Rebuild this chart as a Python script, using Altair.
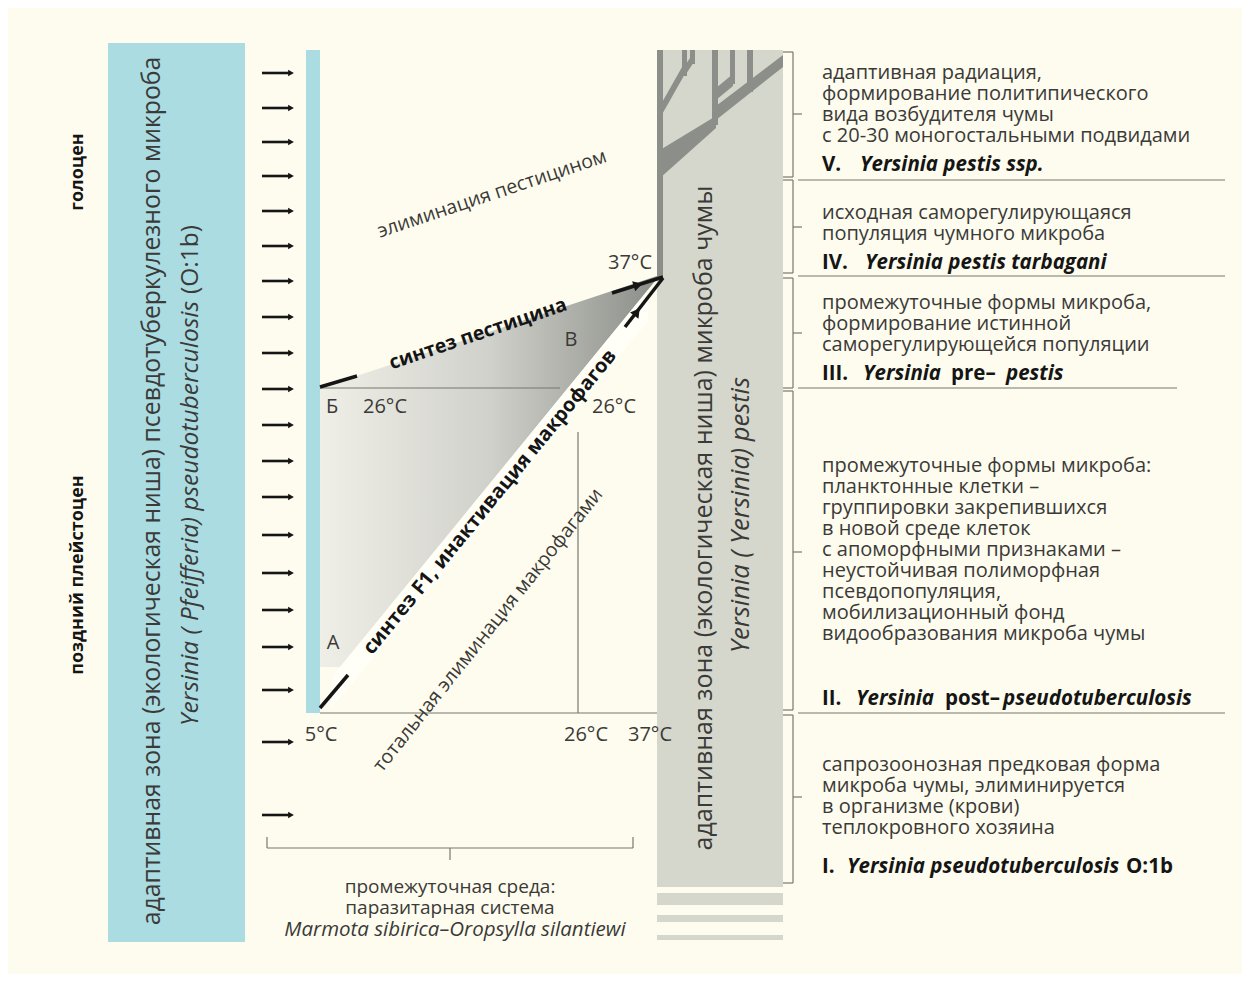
import altair as alt
import pandas as pd

FONT = "Open Sans"
BG = "#FEFCEE"
TXT = "#3a3a38"
DARK = "#151515"
LINE = "#77776f"
TREE = "#8C8E89"

# ---------------- data ----------------
arrow_y = [73, 108, 142, 176, 211, 246, 281, 317, 353, 389, 425, 461, 497, 535, 573, 610, 647, 690, 742, 815]

# rectangles: x, x2, y, y2, colour  (blue zones, grey zone, grey stripes, tree stems)
box_x1 = [108, 306, 657, 657, 657, 657, 657, 682, 690, 712, 730, 747]
box_x2 = [245, 320, 783, 783, 783, 783, 663, 687, 695, 718, 735, 753]
box_y1 = [43, 50, 50, 893, 915, 935, 50, 50, 50, 50, 50, 50]
box_y2 = [942, 713, 887, 905, 922, 940, 278, 76, 64, 125, 84, 92]
box_col = ["#ABDCE2", "#ABDCE2", "#D5D7CC", "#D5D7CC", "#D5D7CC", "#D5D7CC",
           TREE, TREE, TREE, TREE, TREE, TREE]

# tree branches (areas): seg, x, top, bottom
br_seg = ["t1", "t1", "t3", "t3", "w", "w", "t5", "t5", "d", "d"]
br_x = [660, 686, 686, 694, 660, 716, 716, 733, 716, 783]
br_top = [106, 60, 64, 52, 150, 116, 88, 74, 106, 55]
br_bot = [118, 72, 74, 62, 178, 128, 100, 86, 120, 67]

# gradient triangle (area): x, top, bottom
tri_x = [320, 340, 660]
tri_top = [388, 381.4, 275]
tri_bot = [667, 667, 275]

# pale band under the diagonal arrow
band_x = [332, 648]
band_top = [677, 290]
band_bot = [708, 321]

# rules: x, y, x2, y2, colour, width
rule_x1 = [320, 320, 578, 612, 625, 320, 320,
           267, 267, 633, 450,
           798, 798, 798, 798]
rule_y1 = [388, 713, 432, 293, 327, 387, 708,
           848, 837, 837, 848,
           180, 276, 388, 713]
rule_x2 = [560, 657, 578, 663, 663, 357, 348,
           633, 267, 633, 450,
           1225, 1225, 1177, 1225]
rule_y2 = [388, 713, 713, 277, 278, 376, 675,
           848, 848, 848, 860,
           180, 276, 388, 713]
rule_c = [LINE, LINE, LINE, DARK, DARK, DARK, DARK,
          LINE, LINE, LINE, LINE,
          LINE, LINE, LINE, LINE]
rule_w = [1.2, 1.2, 1.2, 3.5, 3.5, 3.5, 3.5,
          1.2, 1.2, 1.2, 1.2,
          1.2, 1.2, 1.2, 1.2]

# right-hand brackets: top, bottom, middle
brk_top = [52, 180, 278, 391, 715]
brk_bot = [177, 273, 388, 710, 883]
brk_mid = [114, 227, 333, 552, 797]

# arrow heads on the two arrows towards 37°C
head_x = [638, 637]
head_y = [285, 312]
head_a = [343, 307]

# single texts: text, x, y, angle, size, weight, style, align, colour
texts = [
    ("голоцен", 78, 172, 270, 18, "bold", "normal", "center", DARK),
    ("поздний плейстоцен", 78, 575, 270, 18, "bold", "normal", "center", DARK),
    ("адаптивная зона (экологическая ниша) псевдотуберкулезного микроба", 153, 491, 270, 24.8, "normal", "normal", "center", TXT),
    ("Yersinia ( Pfeifferia) pseudotuberculosis", 191, 726, 270, 24.5, "normal", "italic", "left", TXT),
    ("(O:1b)", 191, 225, 270, 24.5, "normal", "normal", "right", TXT),
    ("адаптивная зона (экологическая ниша) микроба чумы", 704, 518, 270, 25, "normal", "normal", "center", TXT),
    ("Yersinia ( Yersinia) pestis", 741, 515, 270, 25.5, "normal", "italic", "center", TXT),
    ("элиминация пестицином", 492, 194, 341.5, 19.5, "normal", "normal", "center", TXT),
    ("синтез пестицина", 478, 334, 341.3, 19.5, "bold", "normal", "center", DARK),
    ("синтез F1, инактивация макрофагов", 490, 502, 309.3, 20, "bold", "normal", "center", DARK),
    ("тотальная элиминация макрофагами", 488, 630, 308.5, 19.5, "normal", "normal", "center", TXT),
    ("37°C", 630, 263, 0, 20, "normal", "normal", "center", TXT),
    ("В", 571, 340, 0, 20, "normal", "normal", "center", TXT),
    ("Б", 332, 407, 0, 20, "normal", "normal", "center", TXT),
    ("26°C", 385, 407, 0, 20, "normal", "normal", "center", TXT),
    ("26°C", 614, 407, 0, 20, "normal", "normal", "center", TXT),
    ("А", 333, 643, 0, 20, "normal", "normal", "center", TXT),
    ("5°C", 321, 735, 0, 20, "normal", "normal", "center", TXT),
    ("26°C", 586, 735, 0, 20, "normal", "normal", "center", TXT),
    ("37°C", 650, 735, 0, 20, "normal", "normal", "center", TXT),
    ("Marmota sibirica–Oropsylla silantiewi", 455, 930, 0, 20.5, "normal", "italic", "center", TXT),
]

# multi-line blocks: lines, x, first-line y, size, align
block_lines = [
    ["адаптивная радиация,", "формирование политипического",
     "вида возбудителя чумы", "с 20-30 моногостальными подвидами"],
    ["исходная саморегулирующаяся", "популяция чумного микроба"],
    ["промежуточные формы микроба,", "формирование истинной",
     "саморегулирующейся популяции"],
    ["промежуточные формы микроба:", "планктонные клетки –",
     "группировки закрепившихся", "в новой среде клеток",
     "с апоморфными признаками –", "неустойчивая полиморфная",
     "псевдопопуляция,", "мобилизационный фонд",
     "видообразования микроба чумы"],
    ["сапрозоонозная предковая форма", "микроба чумы, элиминируется",
     "в организме (крови)", "теплокровного хозяина"],
    ["промежуточная среда:", "паразитарная система"],
]
block_x = [822, 822, 822, 822, 822, 450]
block_y = [73, 213, 303, 466, 765, 887]
block_size = [20, 20, 20, 20, 20, 19]
block_align = ["left", "left", "left", "left", "left", "center"]

stage_parts = [
    ("V.", 822, 165, "normal"), ("Yersinia  pestis ssp.", 860, 165, "italic"),
    ("IV.", 822, 263, "normal"), ("Yersinia  pestis tarbagani", 865, 263, "italic"),
    ("III.", 822, 374, "normal"), ("Yersinia", 863, 374, "italic"),
    ("pre–", 951, 374, "normal"), ("pestis", 1006, 374, "italic"),
    ("II.", 822, 699, "normal"), ("Yersinia", 856, 699, "italic"),
    ("post–", 945, 699, "normal"), ("pseudotuberculosis", 1003, 699, "italic"),
    ("I.", 822, 867, "normal"), ("Yersinia pseudotuberculosis", 847, 867, "italic"),
    ("O:1b", 1126, 867, "normal"),
]

# ---------------- scales ----------------
XS = alt.Scale(domain=[8, 1242], nice=False, zero=False)
YS = alt.Scale(domain=[8, 974], nice=False, zero=False, reverse=True)


def X(f="x"):
    return alt.X(f"{f}:Q", scale=XS, axis=None)


def Y(f="y"):
    return alt.Y(f"{f}:Q", scale=YS, axis=None)


layers = []

# rectangles
df_box = pd.DataFrame({"x": box_x1, "x2": box_x2, "y": box_y1, "y2": box_y2, "c": box_col})
layers.append(alt.Chart(df_box).mark_rect().encode(
    x=X(), x2="x2:Q", y=Y(), y2="y2:Q", color=alt.Color("c:N", scale=None)))

# tree branches
df_br = pd.DataFrame({"seg": br_seg, "x": br_x, "y": br_top, "y2": br_bot})
layers.append(alt.Chart(df_br).mark_area(color=TREE, interpolate="linear").encode(
    x=X(), y=Y(), y2="y2:Q", detail="seg:N"))

# gradient triangle
df_tri = pd.DataFrame({"x": tri_x, "y": tri_top, "y2": tri_bot})
grad = alt.Gradient(gradient="linear", x1=0, y1=0, x2=1, y2=0, stops=[
    alt.GradientStop(color="#EFEFE8", offset=0),
    alt.GradientStop(color="#D0D1CA", offset=0.5),
    alt.GradientStop(color="#8A8C87", offset=1)])
layers.append(alt.Chart(df_tri).mark_area(color=grad, interpolate="linear").encode(
    x=X(), y=Y(), y2="y2:Q"))

# pale band
df_band = pd.DataFrame({"x": band_x, "y": band_top, "y2": band_bot})
layers.append(alt.Chart(df_band).mark_area(color="#FFFFF8").encode(
    x=X(), y=Y(), y2="y2:Q"))

# rules
bx1, by1, bx2, by2, bc, bw = [], [], [], [], [], []
for t, b, m in zip(brk_top, brk_bot, brk_mid):
    bx1 += [793, 783, 783, 793]
    by1 += [t, t, b, m]
    bx2 += [793, 793, 793, 802]
    by2 += [b, t, b, m]
    bc += [LINE] * 4
    bw += [1.2] * 4
for yy in arrow_y:
    bx1.append(262); by1.append(yy); bx2.append(289); by2.append(yy)
    bc.append(DARK); bw.append(2.6)
df_rule = pd.DataFrame({
    "x": rule_x1 + bx1, "y": rule_y1 + by1, "x2": rule_x2 + bx2, "y2": rule_y2 + by2,
    "c": rule_c + bc, "w": rule_w + bw})
layers.append(alt.Chart(df_rule).mark_rule(strokeCap="butt").encode(
    x=X(), y=Y(), x2="x2:Q", y2="y2:Q",
    color=alt.Color("c:N", scale=None), strokeWidth=alt.StrokeWidth("w:Q", scale=None)))

# arrow heads
df_head = pd.DataFrame({
    "x": [291] * len(arrow_y) + head_x,
    "y": arrow_y + head_y,
    "a": [0] * len(arrow_y) + head_a,
    "s": [45] * len(arrow_y) + [110, 110]})
layers.append(alt.Chart(df_head).mark_point(shape="triangle-right", filled=True,
                                            color=DARK, opacity=1).encode(
    x=X(), y=Y(), angle=alt.Angle("a:Q", scale=None), size=alt.Size("s:Q", scale=None)))

# texts
rows = [(t, x, y, a, s, wt, st, al, c) for (t, x, y, a, s, wt, st, al, c) in texts]
for lines, xx, yy, sz, al in zip(block_lines, block_x, block_y, block_size, block_align):
    rows.append((lines, xx, yy, 0, sz, "normal", "normal", al, TXT))
for t, xx, yy, st in stage_parts:
    rows.append((t, xx, yy, 0, 20.5, "bold", st, "left", DARK))
df_txt = pd.DataFrame(rows, columns=["t", "x", "y", "a", "s", "wt", "st", "al", "c"])
for (wt, st, al), g in df_txt.groupby(["wt", "st", "al"]):
    layers.append(alt.Chart(g).mark_text(font=FONT, fontWeight=wt, fontStyle=st,
                                         align=al, baseline="middle", lineHeight=21).encode(
        x=X(), y=Y(), text="t:N",
        angle=alt.Angle("a:Q", scale=None), size=alt.Size("s:Q", scale=None),
        color=alt.Color("c:N", scale=None)))

chart = alt.layer(*layers).properties(
    width=1234, height=966, padding=0, autosize="none"
).configure(background=BG).configure_view(strokeWidth=0)

chart.save("out.html", embed_options={"renderer": "svg", "actions": False})
